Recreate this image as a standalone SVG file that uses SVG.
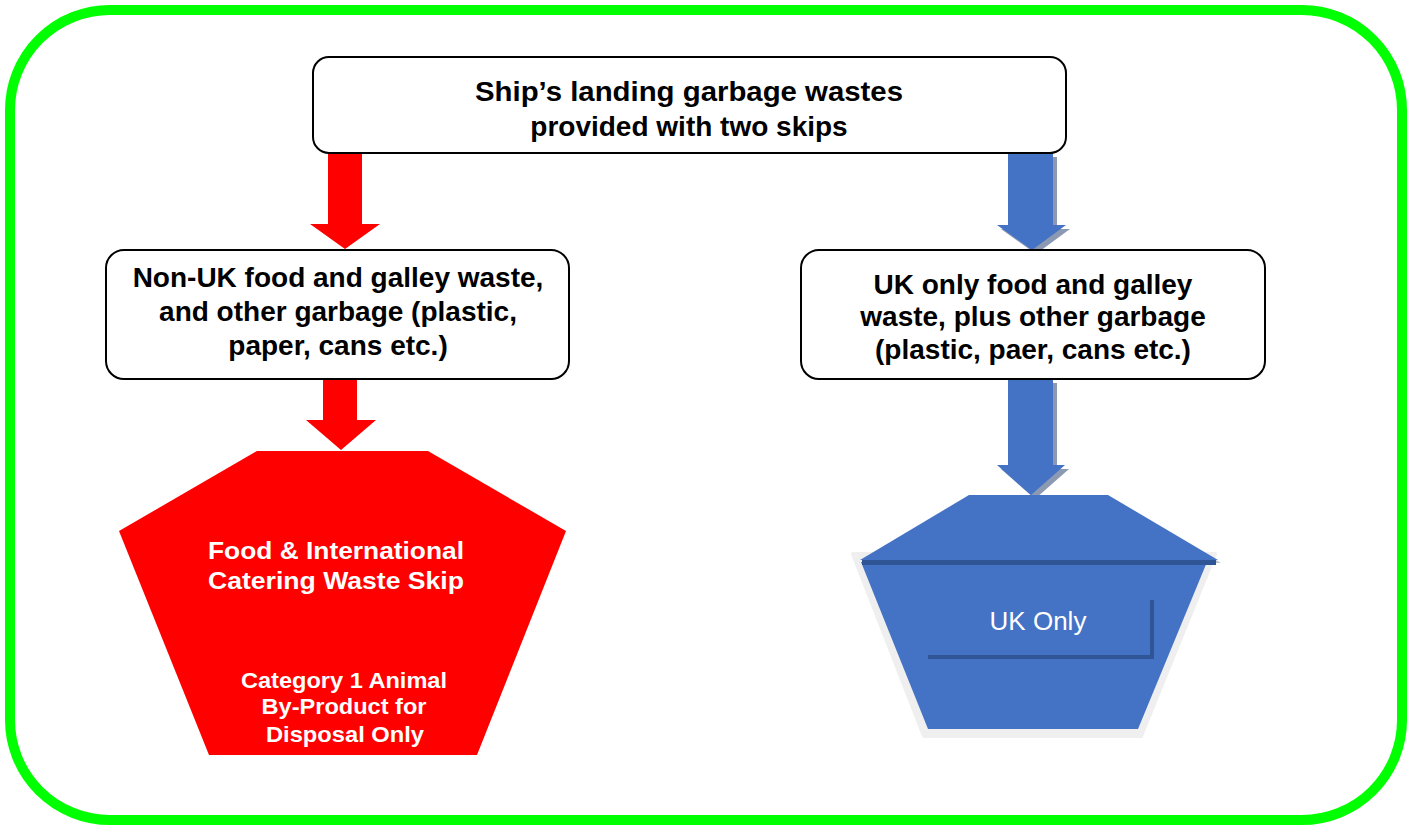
<svg xmlns="http://www.w3.org/2000/svg" width="1415" height="827" viewBox="0 0 1415 827">
<style>
.box{fill:#fff;stroke:#000;stroke-width:2}
.t{font-family:"Liberation Sans",Arial,sans-serif;font-weight:bold;font-size:28px;fill:#000;text-anchor:middle}
.w{font-family:"Liberation Sans",Arial,sans-serif;font-weight:bold;fill:#fff;text-anchor:middle}
.red{fill:#ff0000}
.blue{fill:#4472c4}
.shadow{fill:#8c99b3}
.dark{fill:#2f5597}
</style>
<rect x="10" y="10" width="1392" height="810" rx="100" ry="100" fill="none" stroke="#00ff00" stroke-width="10"/>

<g id="connectors">
  <polygon class="red" points="328,153 362,153 362,224 380,224 345,249 310,224 328,224"/>
  <polygon class="red" points="323,379 357,379 357,420 376,420 341,450 306,420 323,420"/>
  <polygon class="shadow" points="1012,157 1057,157 1057,229 1070,229 1036,254 1001,229 1012,229"/>
  <polygon class="blue" points="1008,153 1053,153 1053,225 1066,225 1032,250 997,225 1008,225"/>
  <polygon class="shadow" points="1012,383 1057,383 1057,469 1069,469 1035,499 1001,469 1012,469"/>
  <polygon class="blue" points="1008,379 1053,379 1053,465 1065,465 1031,495 997,465 1008,465"/>
</g>

<g id="node-top">
  <rect class="box" x="313" y="57" width="753" height="96" rx="16" ry="16"/>
  <text class="t" x="689" y="101" textLength="428" lengthAdjust="spacingAndGlyphs">Ship’s landing garbage wastes</text>
  <text class="t" x="689" y="136">provided with two skips</text>
</g>

<g id="node-nonuk">
  <rect class="box" x="106" y="250" width="463" height="129" rx="18" ry="18"/>
  <text class="t" x="338" y="287">Non-UK food and galley waste,</text>
  <text class="t" x="338" y="321">and other garbage (plastic,</text>
  <text class="t" x="338" y="355">paper, cans etc.)</text>
</g>

<g id="node-uk">
  <rect class="box" x="801" y="250" width="464" height="129" rx="18" ry="18"/>
  <text class="t" x="1033" y="294">UK only food and galley</text>
  <text class="t" x="1033" y="326">waste, plus other garbage</text>
  <text class="t" x="1033" y="359">(plastic, paer, cans etc.)</text>
</g>

<g id="node-red-skip">
  <polygon class="red" points="257,451 428,451 566,531 477,755 209,755 119,531"/>
  <text class="w" x="336" y="559" font-size="24" textLength="256" lengthAdjust="spacingAndGlyphs">Food &amp; International</text>
  <text class="w" x="336" y="589" font-size="24" textLength="256" lengthAdjust="spacingAndGlyphs">Catering Waste Skip</text>
  <text class="w" x="344" y="688" font-size="22" textLength="206" lengthAdjust="spacingAndGlyphs">Category 1 Animal</text>
  <text class="w" x="344" y="714" font-size="22" textLength="165" lengthAdjust="spacingAndGlyphs">By-Product for</text>
  <text class="w" x="345" y="742" font-size="22" textLength="158" lengthAdjust="spacingAndGlyphs">Disposal Only</text>
</g>

<g id="node-blue-skip">
  <polygon points="853,554 1215,554 1141,736 924,736" fill="#efefef" stroke="#efefef" stroke-width="4" stroke-linejoin="round"/>
  <polygon class="blue" points="861,562 1207,562 1138,729 928,729"/>
  <polygon points="1110,498 1221,563 970,563" fill="#8c99b3" opacity="0.6"/>
  <polygon class="blue" points="969,495 1108,495 1218,560 860,560"/>
  <rect class="dark" x="862" y="560" width="354" height="5"/>
  <polyline points="928,657 1152,657 1152,600" fill="none" stroke="#2f5597" stroke-width="4"/>
  <text x="1038" y="630" font-family="'Liberation Sans',Arial,sans-serif" font-size="26" fill="#fff" text-anchor="middle">UK Only</text>
</g>
</svg>
